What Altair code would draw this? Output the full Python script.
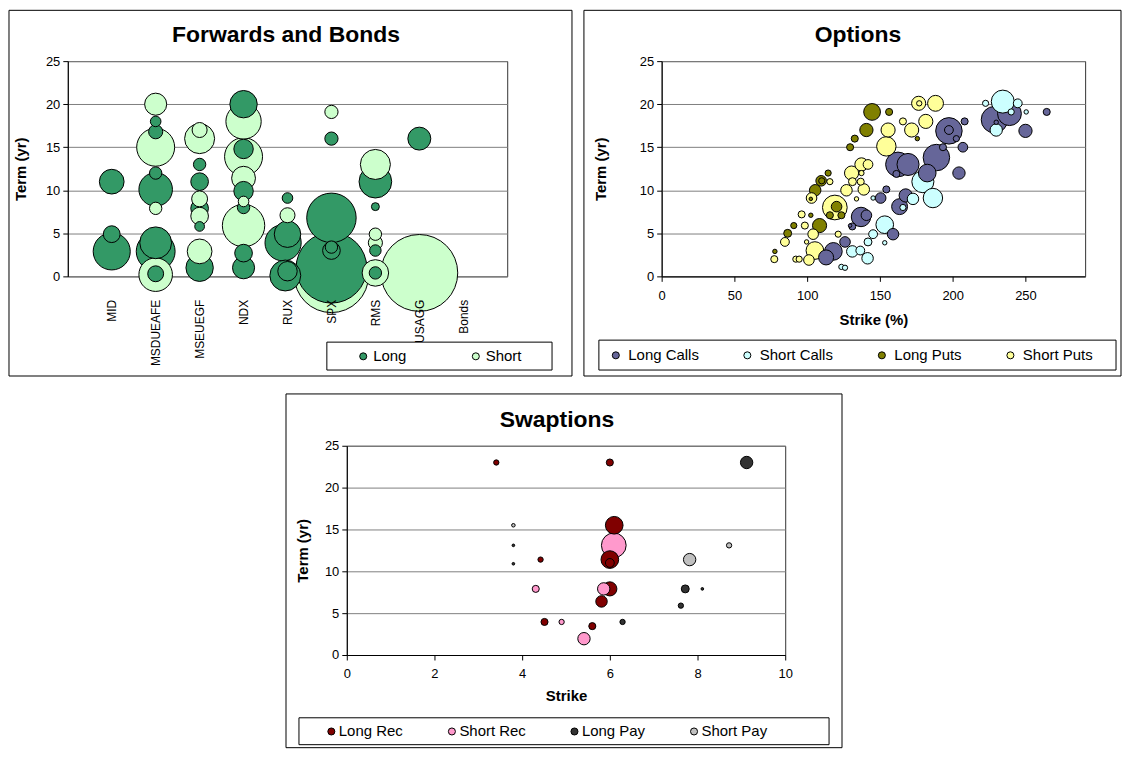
import altair as alt
import pandas as pd

FONT = "Liberation Sans"

# ---------------- Forwards and Bonds ----------------
FB_CATEGORIES = ["MID", "MSDUEAFE", "MSEUEGF", "NDX", "RUX", "SPX", "RMS", "USAGG", "Bonds"]
FB_SERIES = ["Long", "Short"]
FB_COLORS = ["#339966", "#CCFFCC"]
# (category position, term, bubble)
FB_LONG = [
    (1, 11.0, 28), (1, 4.9, 19), (1, 2.9, 42),
    (2, 18.0, 12), (2, 16.8, 16), (2, 12.0, 14), (2, 10.1, 38), (2, 3.9, 36), (2, 2.9, 44), (2, 0.3, 18),
    (3, 13.0, 14), (3, 11.0, 20), (3, 7.9, 20), (3, 5.8, 11), (3, 1.0, 31),
    (4, 20.0, 31), (4, 14.8, 22), (4, 9.9, 22), (4, 8.0, 14), (4, 2.7, 20), (4, 1.0, 25),
    (5, 9.1, 12), (5, 4.9, 30), (4.9, 3.9, 41), (4.95, 0.1, 35), (5, 0.6, 22),
    (6, 16.0, 15), (6, 6.8, 56), (6, 1.0, 80), (6, 3.0, 20), (6, 3.4, 14),
    (7, 11.0, 37), (7, 8.1, 9), (7, 3.0, 13), (7, 0.4, 14),
    (8, 16.0, 26),
]
FB_SHORT = [
    (2, 20.0, 25), (2, 15.0, 43), (2, 7.9, 14), (2, 0.2, 38),
    (3, 16.0, 34), (3, 17.0, 17), (3, 9.0, 18), (3, 7.0, 20), (3, 2.9, 28),
    (4, 18.0, 40), (4, 13.9, 43), (4, 11.4, 27), (4, 8.7, 12), (4, 5.9, 48),
    (5, 7.1, 17),
    (6, 19.1, 15), (6, 0.1, 84),
    (7, 13.0, 34), (7, 4.9, 14), (7, 3.9, 16), (7, 0.4, 30),
    (8, 0.4, 87),
]

# ---------------- Options ----------------
OPT_SERIES = ["Long Calls", "Short Calls", "Long Puts", "Short Puts"]
OPT_COLORS = ["#666699", "#CCFFFF", "#808000", "#FFFF99"]
# (strike %, term, bubble)
OPT_LONG_CALLS = [
    (118.0, 2.9, 20), (113.0, 2.2, 17), (126.0, 4.0, 12), (137.0, 6.9, 22), (140.7, 7.1, 12),
    (131.0, 5.8, 8), (129.5, 5.9, 4), (150.5, 9.1, 12), (154.4, 10.1, 8), (159.0, 4.9, 13),
    (163.5, 8.1, 18), (167.7, 9.4, 15), (162.4, 13.0, 28), (169.3, 13.0, 25), (161.3, 11.9, 8),
    (182.5, 12.0, 20), (188.8, 13.8, 30), (193.3, 15.0, 8), (197.4, 16.9, 30), (197.4, 17.0, 10),
    (202.5, 16.0, 7), (207.0, 15.0, 11), (204.3, 12.0, 14), (208.2, 18.0, 8), (228.7, 18.2, 30),
    (239.0, 18.9, 27), (250.0, 16.9, 15), (264.6, 19.1, 8), (229.9, 17.9, 5),
]
OPT_SHORT_CALLS = [
    (123.5, 1.1, 6), (126.0, 1.0, 6), (131.0, 2.9, 13), (141.5, 2.1, 13), (136.5, 3.0, 10),
    (141.8, 4.0, 9), (145.3, 4.9, 10), (153.3, 6.0, 20), (153.3, 3.9, 5), (145.3, 9.1, 5),
    (165.8, 8.0, 7), (172.7, 9.0, 13), (179.5, 11.0, 25), (186.4, 9.1, 22),
    (222.6, 20.1, 7), (234.4, 20.3, 26), (244.7, 20.1, 10), (240.2, 19.1, 7), (250.5, 19.1, 5),
    (229.9, 17.0, 14),
]
OPT_LONG_PUTS = [
    (144.6, 19.1, 19), (156.3, 19.1, 8), (140.7, 17.0, 15), (132.7, 16.0, 8), (129.5, 15.0, 8),
    (175.7, 16.0, 5), (114.4, 12.0, 7), (109.6, 11.1, 12), (110.0, 11.1, 7), (105.5, 10.0, 13),
    (102.5, 9.0, 4), (120.2, 8.1, 12), (115.6, 7.1, 8), (123.5, 7.1, 8), (102.5, 7.1, 5),
    (108.5, 5.9, 16), (90.8, 5.9, 7), (86.6, 5.0, 9), (77.8, 2.9, 5),
]
OPT_SHORT_PUTS = [
    (155.6, 17.0, 16), (154.4, 15.1, 22), (137.3, 13.0, 15), (141.8, 13.0, 11), (130.5, 12.0, 16),
    (137.3, 12.0, 6), (131.1, 11.0, 9), (115.6, 11.0, 7), (136.8, 11.0, 8), (127.0, 10.0, 13),
    (138.9, 10.1, 13), (119.0, 8.0, 28), (103.0, 9.1, 12), (133.9, 9.0, 5), (96.2, 7.2, 8),
    (98.4, 5.9, 8), (104.1, 4.9, 12), (99.6, 4.0, 5), (84.7, 4.0, 10), (105.3, 3.0, 20),
    (121.3, 4.9, 7), (77.4, 2.0, 8), (92.2, 2.0, 7), (94.5, 2.0, 7), (101.2, 1.9, 12),
    (176.6, 20.1, 16), (177.0, 20.1, 6), (188.2, 20.1, 18), (181.5, 18.0, 16), (171.8, 17.0, 16),
    (165.8, 18.0, 8),
]

# ---------------- Swaptions ----------------
SWP_SERIES = ["Long Rec", "Short Rec", "Long Pay", "Short Pay"]
SWP_COLORS = ["#800000", "#FF99CC", "#333333", "#C0C0C0"]
# (strike, term, bubble)
SWP_LONG_REC = [
    (3.41, 23.0, 6), (6.0, 23.0, 8), (4.42, 11.4, 6), (4.51, 3.95, 8), (5.6, 3.45, 8),
    (6.1, 15.5, 20), (6.0, 11.4, 20), (6.0, 11.0, 10), (6.0, 7.9, 16), (5.81, 6.4, 13),
]
SWP_SHORT_REC = [(4.31, 7.9, 8), (4.9, 3.95, 6), (5.41, 1.95, 14), (6.09, 13.1, 28), (5.86, 7.9, 14)]
SWP_LONG_PAY = [(3.8, 13.1, 3), (3.8, 10.9, 3), (9.12, 23.0, 14), (7.72, 7.9, 9), (8.11, 7.9, 3),
                (7.62, 5.9, 6), (6.29, 3.95, 6)]
SWP_SHORT_PAY = [(3.8, 15.5, 4), (7.82, 11.4, 14), (8.72, 13.1, 6)]

TERM_TICKS = [0, 5, 10, 15, 20, 25]
OPT_STRIKE_TICKS = [0, 50, 100, 150, 200, 250]
SWP_STRIKE_TICKS = [0, 2, 4, 6, 8, 10]


def table(groups):
    rows = []
    for name, pts in groups:
        for x, t, b in pts:
            rows.append({"x": x, "term": t, "bubble": b, "series": name})
    return pd.DataFrame(rows)


ONE = pd.DataFrame({"k": [0]})


def panel(df, series, colors, width, height, x_enc, title, title_x, frame, box,
          legend_kw, ytitle_pad):
    frame_layer = alt.Chart(ONE).mark_rect(filled=False, stroke="black", strokeWidth=1).encode(
        x=alt.value(frame[0]), x2=alt.value(frame[1]), y=alt.value(frame[2]), y2=alt.value(frame[3]))
    bubbles = alt.Chart(df).mark_circle(opacity=1, stroke="black", strokeWidth=1).encode(
        x=x_enc,
        y=alt.Y("term:Q", scale=alt.Scale(domain=[0, 25], nice=False, zero=True),
                axis=alt.Axis(values=TERM_TICKS, title="Term (yr)", grid=True, tickSize=5,
                              labelPadding=3, titlePadding=ytitle_pad)),
        size=alt.Size("bubble:Q",
                      scale=alt.Scale(type="pow", exponent=2, domain=[0, 100], range=[0, 7854]),
                      legend=None),
        color=alt.Color("series:N", scale=alt.Scale(domain=series, range=colors),
                        legend=alt.Legend(**legend_kw)),
        order=alt.Order("bubble:Q", sort="descending"),
    )
    box_layer = alt.Chart(ONE).mark_rect(fill="white", stroke="black", strokeWidth=1).encode(
        x=alt.value(box[0]), x2=alt.value(box[1]), y=alt.value(box[2]), y2=alt.value(box[3]))
    title_layer = alt.Chart(ONE).mark_text(
        font=FONT, fontSize=23, fontWeight="bold", color="black", align="center", baseline="middle"
    ).encode(x=alt.value(title_x), y=alt.value(-26), text=alt.value(title))
    return alt.layer(frame_layer, bubbles, box_layer, title_layer).properties(width=width, height=height)


def legend_kw(x, y, col_pad, label_off):
    return dict(orient="none", legendX=x, legendY=y, direction="horizontal", title=None,
                labelFont=FONT, labelFontSize=15, labelColor="black", symbolType="circle",
                symbolSize=50, symbolStrokeColor="black", symbolStrokeWidth=1, symbolOpacity=1,
                columnPadding=col_pad, labelOffset=label_off, padding=0)


fb_df = table([("Long", FB_LONG), ("Short", FB_SHORT)])
fb_label_expr = "[" + ",".join("'%s'" % c for c in FB_CATEGORIES) + "][datum.value - 1]"
fb_x = alt.X("x:Q", scale=alt.Scale(domain=[0, 10], nice=False, zero=False),
             axis=alt.Axis(values=list(range(1, 10)), labelExpr=fb_label_expr, labelAngle=-90,
                           ticks=False, domain=False, grid=False, labelPadding=23, labelFontSize=12,
                           labelFlush=False, labelOverlap=False, zindex=1, title=None))
fb = panel(fb_df, FB_SERIES, FB_COLORS, 441, 216, fb_x, "Forwards and Bonds", 219,
           (-59, 506, -51, 316), (260, 486, 282, 310),
           legend_kw(289, 288.5, 62, 2.5), 17)

opt_df = table([("Long Calls", OPT_LONG_CALLS), ("Short Calls", OPT_SHORT_CALLS),
                ("Long Puts", OPT_LONG_PUTS), ("Short Puts", OPT_SHORT_PUTS)])
opt_x = alt.X("x:Q", scale=alt.Scale(domain=[0, 291], nice=False, zero=True),
              axis=alt.Axis(values=OPT_STRIKE_TICKS, title="Strike (%)", grid=False, tickSize=5,
                            labelPadding=8, titlePadding=10, labelFlush=False))
opt = panel(opt_df, OPT_SERIES, OPT_COLORS, 425, 216, opt_x, "Options", 197,
            (-78, 461, -51, 316), (-63, 456, 280, 310),
            legend_kw(-53.5, 287.5, 41, 5), 31)

swp_df = table([("Long Rec", SWP_LONG_REC), ("Short Rec", SWP_SHORT_REC),
                ("Long Pay", SWP_LONG_PAY), ("Short Pay", SWP_SHORT_PAY)])
swp_x = alt.X("x:Q", scale=alt.Scale(domain=[0, 10], nice=False, zero=True),
              axis=alt.Axis(values=SWP_STRIKE_TICKS, title="Strike", grid=False, tickSize=5,
                            labelPadding=8, titlePadding=8, labelFlush=False))
swp = panel(swp_df, SWP_SERIES, SWP_COLORS, 440, 210, swp_x, "Swaptions", 211,
            (-61, 497, -52, 303), (-48, 484, 273, 300),
            legend_kw(-23, 279, 41, 0), 14)

top = alt.hconcat(fb, opt, spacing=10).resolve_scale(color="independent", size="independent")
chart = (
    alt.vconcat(top, swp, spacing=16, center=True)
    .resolve_scale(color="independent", size="independent")
    .properties(padding=0)
    .configure(font=FONT)
    .configure_view(stroke="#333333", strokeWidth=1)
    .configure_axis(labelFont=FONT, titleFont=FONT, labelFontSize=13, titleFontSize=15,
                    titleFontWeight="bold", labelColor="black", titleColor="black",
                    domainColor="black", tickColor="black", gridColor="#808080", gridOpacity=1)
)

chart.save("out.html", embed_options={"renderer": "svg", "actions": False})
